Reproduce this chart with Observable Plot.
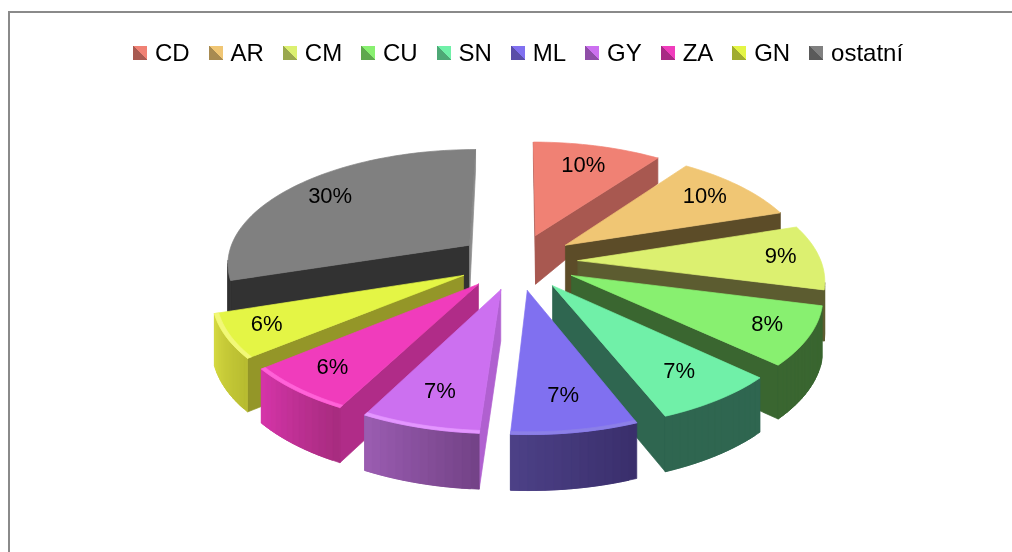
<!DOCTYPE html>
<html><head><meta charset="utf-8">
<script src="https://cdn.jsdelivr.net/npm/d3@7"></script>
<script src="https://cdn.jsdelivr.net/npm/@observablehq/plot@0.6"></script>
<style>
html,body{margin:0;padding:0;background:#fff;overflow:hidden}
#frame{position:absolute;left:8px;top:11px;right:-4px;height:560px;border:2px solid #8a8a8a;box-sizing:border-box}
#legend{position:absolute;left:133px;top:41px;display:flex;font:24px "Liberation Sans",Arial,sans-serif;color:#000;line-height:24px;filter:blur(0.3px)}
.item{display:flex;align-items:center;margin-right:18.9px;white-space:nowrap}
.sw{width:14px;height:14px;margin-right:8px;display:inline-block;filter:blur(0.6px)}
#chart{position:absolute;left:0;top:80px}
</style></head><body>
<div id="frame"></div>
<div id="legend"></div>
<div id="chart"></div>
<script>
const categories = ["CD","AR","CM","CU","SN","ML","GY","ZA","GN","ostatní"];
const shares = [10,10,9,8,7,7,6.6,6.4,6,30];
const topColors = ["#f08174","#f0c674","#dcf070","#88f070","#70f0a8","#8070f0","#cc70f0","#f03cbc","#e4f545","#808080"];
const radialColors = ["#a85850","#5c4c28","#5c5c30","#3a6630","#2f6650","#3a2f6c","#b060d0","#b02c88","#949628","#323232"];
const radialEndColors = ["#a85850","#5c4c28","#5c5c30","#3a6630","#2f6650","#3a2f6c","#b060d0","#b02c88","#949628","#8c8c8c"];
const rimStart = ["#a85850","#5c4c28","#5c5c30","#3a6630","#2f6650","#3a2f6c","#744388","#a82c80","#b8bc30","#323232"];
const rimEnd = ["#a85850","#5c4c28","#5c5c30","#3a6630","#2f6650","#4c4086","#9a5cb0","#d434a8","#d4d840","#323232"];
const edgeColors = [null,null,null,null,null,"#8c80e8","#e496ff","#ff62d8","#f2f878",null];
const frontOrder = ["ostatní","CD","AR","CM","GN","CU","ZA","SN","GY","ML"];
const labelReach = [0.96,1,1.05,1.045,1,0.99,0.99,1.03,1.05,1];

const W = 1012, H = 472, TOP = 80;
const cx = 517, cy = 261, a = 252, b = 118, p = 0.15, explode = 0.24, radius = 0.965;
const depthAt = Y => (Y > 0 ? 50 - 24 * Y * Y : 50 - 5 * Y);
const project = (X, Y, drop = 0) => {
  const w = 1 + p * Y;
  return {x: X / w, y: Y / w - (drop ? depthAt(Y) / b : 0)};
};

const total = d3.sum(shares);
let acc = 0;
const slices = categories.map((name, i) => {
  const t0 = acc / total * 2 * Math.PI; acc += shares[i];
  const t1 = acc / total * 2 * Math.PI;
  return {name, i, t0, t1, mid: (t0 + t1) / 2};
});
const bySliceName = new Map(slices.map(s => [s.name, s]));

const polys = [];
let faceId = 0;
const addFace = (corners, color) => {
  const id = faceId++;
  [...corners, corners[0]].forEach(c => polys.push({...c, id, color}));
};
const signedArea = q => d3.sum(q, (c, k) => {
  const n = q[(k + 1) % q.length];
  return c.x * n.y - n.x * c.y;
});
for (const name of frontOrder) {
  const s = bySliceName.get(name);
  const ox = explode * Math.sin(s.mid), oy = explode * Math.cos(s.mid);
  const at = (t, r = radius) => [ox + r * Math.sin(t), oy + r * Math.cos(t)];
  const steps = Math.max(4, Math.round((s.t1 - s.t0) / 0.03));
  const arc = d3.range(steps + 1).map(k => s.t0 + (s.t1 - s.t0) * k / steps);
  const quad = (A, B) => [project(...A), project(...B), project(...B, 1), project(...A, 1)];
  const apex = at(0, 0);
  const q0 = quad(apex, at(s.t0));
  const q1 = quad(at(s.t1), apex);
  if (signedArea(q0) > 0) addFace(q0, radialColors[s.i]);
  if (signedArea(q1) > 0) addFace(q1, radialEndColors[s.i]);
  const rimScale = d3.interpolateRgb(rimStart[s.i], rimEnd[s.i]);
  arc.slice(0, -1).forEach((t, k) => {
    const facing = quad(at(t), at(arc[k + 1]));
    if (signedArea(facing) > 0) {
      const n = arc[Math.min(k + 2, steps)];
      addFace(quad(at(t), at(n)), d3.rgb(rimScale(k / (steps - 1))).formatHex());
    }
  });
  addFace([project(...apex), ...arc.map(t => project(...at(t)))], topColors[s.i]);
  if (edgeColors[s.i]) {
    const outer = arc.map(t => project(...at(t)));
    const inner = arc.map(t => project(...at(t, radius - 0.016))).reverse();
    addFace([...outer, ...inner], edgeColors[s.i]);
  }
}

const labels = slices.map(s => {
  const r = labelReach[s.i];
  const pt = project(r * Math.sin(s.mid), r * Math.cos(s.mid));
  return {...pt, text: `${Math.round(shares[s.i])}%`};
});

const chart = Plot.plot({
  width: W, height: H,
  margin: 0,
  x: {domain: [-cx / a, (W - cx) / a], range: [0, W], axis: null},
  y: {domain: [(cy - TOP) / b, (cy - TOP - H) / b], range: [0, H], axis: null},
  marks: [
    Plot.line(polys, {x: "x", y: "y", z: "id", fill: "color", stroke: "color", strokeWidth: 0.7, curve: "linear"}),
    Plot.text(labels, {x: "x", y: "y", text: "text", dy: -2, fontSize: 22, fontFamily: "Liberation Sans", fill: "#000"})
  ]
});
chart.style.background = "transparent";
chart.style.filter = "blur(0.45px)";
document.getElementById("chart").append(chart);

const legend = document.getElementById("legend");
categories.forEach((name, i) => {
  const el = document.createElement("div");
  el.className = "item";
  const sw = document.createElement("span");
  sw.className = "sw";
  const dark = d3.color(topColors[i]).darker(1).formatHex();
  sw.style.background = `linear-gradient(to top right, ${dark} 52%, ${topColors[i]} 52%)`;
  el.append(sw, document.createTextNode(name));
  legend.append(el);
});
</script>
</body></html>
